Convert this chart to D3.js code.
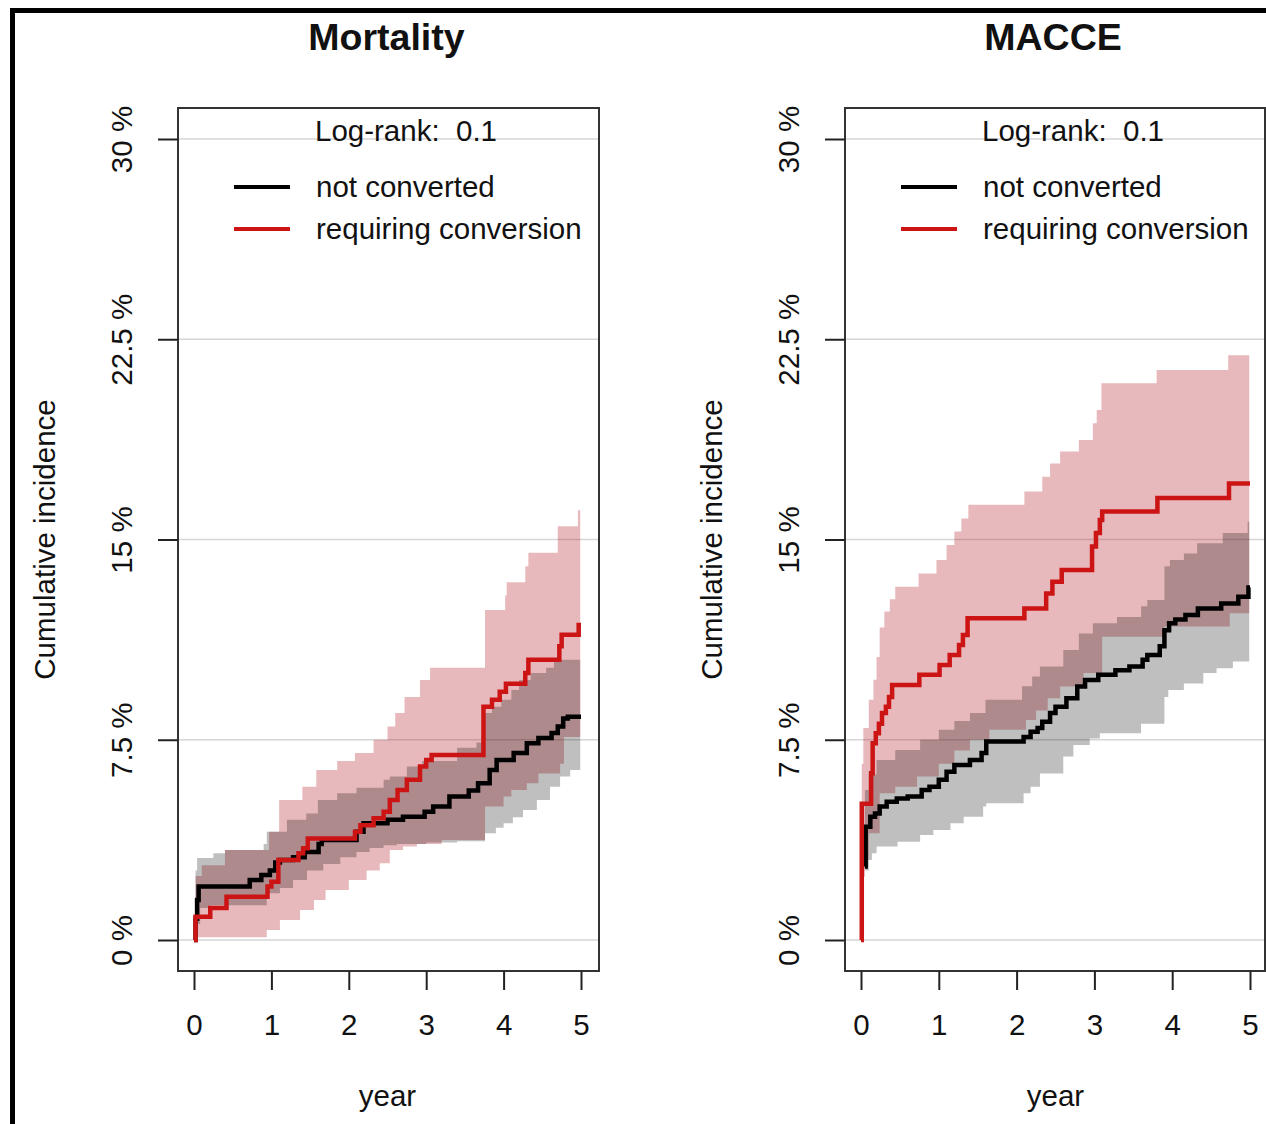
<!DOCTYPE html>
<html>
<head>
<meta charset="utf-8">
<script src="https://cdn.jsdelivr.net/npm/d3@7"></script>
<style>
  body { margin: 0; background: #fff; }
  svg text { font-family: "Liberation Sans", Arial, sans-serif; fill: #111; white-space: pre; }
</style>
</head>
<body>
<div id="main-vis"></div>
<script>
// y axis ticks (cumulative incidence, %) and x ticks (years)
const yTicks = [0, 7.5, 15, 22.5, 30]
const yTickLabels = ["0 %", "7.5 %", "15 %", "22.5 %", "30 %"]
const xTicks = [0, 1, 2, 3, 4, 5]
const groups = ["not converted", "requiring conversion"]
const logRank = ["Log-rank:  0.1", "Log-rank:  0.1"]

// ---- Mortality: [year, %] step points ----
const mortNotConv = [[0,0],[0.02,0.8],[0.04,1.5],[0.06,2.0],[0.72,2.25],[0.87,2.43],[0.98,2.6],[1.05,2.9],[1.11,3.0],
  [1.28,3.1],[1.43,3.3],[1.61,3.6],[1.65,3.75],[2.10,4.05],[2.19,4.37],[2.50,4.5],[2.70,4.62],[2.98,4.8],[3.09,5.0],
  [3.30,5.37],[3.55,5.6],[3.67,5.87],[3.82,6.37],[3.91,6.74],[4.13,7.0],[4.30,7.37],[4.45,7.57],[4.62,7.75],
  [4.70,8.0],[4.77,8.3],[4.83,8.36],[5.0,8.36]]
const mortNotConvLo = [[0.02,0.3],[0.04,0.6],[0.08,1.2],[0.21,1.3],[0.94,1.75],[1.11,1.95],[1.28,2.25],[1.46,2.6],
  [1.67,2.85],[1.89,3.1],[2.10,3.3],[2.27,3.45],[2.45,3.55],[2.62,3.6],[3.00,3.65],[3.40,3.7],[3.76,4.0],
  [3.90,4.2],[4.00,4.37],[4.12,4.6],[4.25,4.87],[4.43,5.24],[4.60,5.74],[4.73,6.12],[4.86,6.37],[4.99,6.37]]
const mortNotConvHi = [[0.02,2.6],[0.04,3.07],[0.25,3.25],[0.40,3.37],[0.90,3.6],[0.94,4.05],[1.20,4.5],[1.45,4.74],
  [1.60,5.24],[1.85,5.5],[2.10,5.7],[2.45,6.0],[2.53,6.12],[2.75,6.5],[2.95,6.7],[3.40,7.2],[3.65,7.4],[3.76,8.5],
  [3.85,8.74],[3.97,9.0],[4.10,9.36],[4.20,9.74],[4.35,10.0],[4.55,10.2],[4.65,10.5],[4.99,10.5]]

const mortConv = [[0,0],[0.02,0.87],[0.21,1.2],[0.42,1.62],[0.95,2.0],[1.0,2.18],[1.09,3.0],[1.35,3.25],[1.41,3.44],
  [1.47,3.8],[2.08,4.05],[2.15,4.3],[2.32,4.56],[2.45,4.8],[2.53,5.24],[2.63,5.62],[2.75,6.0],[2.92,6.5],[3.0,6.74],
  [3.07,6.93],[3.74,8.74],[3.85,9.0],[3.95,9.3],[4.03,9.6],[4.28,10.0],[4.32,10.5],[4.72,11.0],[4.75,11.43],
  [4.97,11.8],[5.0,11.8]]
const mortConvLo = [[0.02,0.1],[0.94,0.37],[1.11,0.75],[1.37,1.12],[1.55,1.5],[1.70,1.87],[2.00,2.25],[2.23,2.6],
  [2.40,2.87],[2.53,3.37],[2.70,3.5],[2.88,3.6],[3.20,3.75],[3.76,5.0],[4.00,5.37],[4.10,5.62],[4.30,5.87],
  [4.45,6.24],[4.73,6.6],[4.78,7.6],[4.99,7.6]]
const mortConvHi = [[0.02,2.4],[0.10,2.8],[0.40,3.37],[0.97,4.05],[1.10,5.24],[1.40,5.74],[1.58,6.37],[1.85,6.7],
  [2.08,7.0],[2.32,7.5],[2.50,8.0],[2.60,8.5],[2.72,9.1],[2.92,9.74],[3.05,10.2],[3.76,12.36],[4.02,12.9],
  [4.04,13.4],[4.28,14.0],[4.32,14.5],[4.70,15.5],[4.96,16.1],[4.99,16.1]]

// ---- MACCE ----
const macceNotConv = [[0.05,2.75],[0.06,4.24],[0.12,4.62],[0.18,4.74],[0.24,5.0],[0.33,5.18],[0.46,5.3],[0.60,5.37],
  [0.78,5.62],[0.88,5.74],[1.00,6.0],[1.10,6.3],[1.20,6.55],[1.40,6.74],[1.55,7.0],[1.61,7.43],[2.09,7.6],
  [2.18,7.8],[2.27,7.94],[2.33,8.17],[2.43,8.5],[2.50,8.74],[2.64,9.05],[2.78,9.49],[2.88,9.74],[3.05,9.93],
  [3.27,10.1],[3.45,10.24],[3.62,10.5],[3.68,10.67],[3.84,11.0],[3.90,11.6],[3.96,11.86],[4.04,12.0],
  [4.17,12.17],[4.33,12.42],[4.63,12.6],[4.85,12.86],[4.98,13.2],[5.0,13.2]]
const macceNotConvLo = [[0.05,2.6],[0.10,3.0],[0.14,3.25],[0.20,3.5],[0.47,3.68],[0.76,3.93],[0.93,4.12],[1.15,4.37],
  [1.32,4.62],[1.57,5.0],[1.61,5.12],[2.09,5.5],[2.18,5.74],[2.30,6.24],[2.60,6.87],[2.73,7.3],[2.94,7.55],
  [3.07,7.74],[3.60,8.1],[3.90,9.1],[3.95,9.36],[4.15,9.61],[4.40,10.0],[4.57,10.18],[4.78,10.43],[4.99,10.43]]
const macceNotConvHi = [[0.05,5.62],[0.10,6.2],[0.20,6.74],[0.44,7.12],[0.76,7.5],[1.00,7.87],[1.20,8.2],[1.40,8.5],
  [1.60,9.0],[2.07,9.5],[2.20,9.87],[2.30,10.24],[2.60,10.86],[2.80,11.48],[2.98,11.86],[3.29,12.1],[3.60,12.5],
  [3.68,12.73],[3.90,14.0],[3.97,14.23],[4.15,14.48],[4.32,14.86],[4.65,15.24],[4.97,15.67],[4.99,15.67]]

const macceConv = [[0,0],[0.01,5.1],[0.13,6.25],[0.15,7.37],[0.19,7.74],[0.23,8.1],[0.27,8.5],[0.32,8.74],[0.36,9.1],
  [0.40,9.55],[0.75,9.93],[1.01,10.3],[1.14,10.67],[1.26,11.05],[1.31,11.42],[1.37,12.05],[2.10,12.42],
  [2.38,12.98],[2.46,13.42],[2.58,13.86],[2.97,14.74],[3.02,15.24],[3.07,15.73],[3.10,16.05],[3.81,16.55],
  [4.73,17.1],[5.0,17.1]]
const macceConvLo = [[0.01,2.37],[0.05,3.0],[0.10,4.0],[0.24,5.5],[0.44,5.74],[0.72,6.12],[1.00,6.6],[1.20,7.1],
  [1.40,7.5],[1.65,7.87],[2.12,8.24],[2.25,8.6],[2.40,9.05],[2.56,9.49],[2.86,10.0],[3.10,11.36],[3.90,11.74],
  [4.74,12.24],[4.99,12.24]]
const macceConvHi = [[0.01,6.6],[0.03,7.94],[0.10,9.0],[0.16,9.75],[0.20,10.6],[0.24,11.7],[0.30,12.3],[0.37,12.76],
  [0.44,13.23],[0.74,13.73],[0.97,14.23],[1.10,14.79],[1.20,15.3],[1.29,15.79],[1.38,16.3],[2.10,16.8],
  [2.33,17.35],[2.43,17.85],[2.56,18.3],[2.80,18.73],[2.98,19.35],[3.03,19.85],[3.09,20.85],[3.80,21.35],
  [4.72,21.9],[4.99,21.9]]

const W = 1266, H = 1124
const FONT = 29.5
const RED = '#cc1414'

const svg = d3.create('svg')
  .attr('width', W)
  .attr('height', H)

svg.append('rect').attr('width', W).attr('height', H).attr('fill', '#fff')

// outer frame (right and bottom edges fall outside the picture)
svg.append('rect')
  .attr('x', 12.5).attr('y', 10.5)
  .attr('width', 1300).attr('height', 1200)
  .attr('fill', 'none').attr('stroke', '#000').attr('stroke-width', 5)

// value of a step function at time t
function stepAt (pts, t) {
  let v = pts[0][1]
  for (const p of pts) if (p[0] <= t) v = p[1]
  return v
}

function bandData (lo, hi) {
  const ts = Array.from(new Set(lo.map(d => d[0]).concat(hi.map(d => d[0])))).sort((a, b) => a - b)
  return ts.map(t => ({ t: t, lo: stepAt(lo, t), hi: stepAt(hi, t) }))
}

function drawPanel (p) {
  const g = svg.append('g')
  const x = d3.scaleLinear().domain([0, 5]).range([p.x0, p.x5])
  const y = d3.scaleLinear().domain([0, 30]).range([940, 139])
  const top = 108, bottom = 971

  // title
  g.append('text')
    .attr('x', (p.boxL + p.boxR) / 2 - 2).attr('y', 50)
    .attr('text-anchor', 'middle')
    .attr('font-size', 37.5).attr('font-weight', 'bold')
    .text(p.title)

  // grid lines
  g.selectAll('.grid').data(yTicks).join('line')
    .attr('x1', p.boxL).attr('x2', p.boxR)
    .attr('y1', d => y(d)).attr('y2', d => y(d))
    .attr('stroke', '#d6d6d6').attr('stroke-width', 1.5)

  // confidence bands: red first, grey on top so overlap turns dark
  const area = d3.area().curve(d3.curveStepAfter)
    .x(d => x(d.t)).y0(d => y(d.lo)).y1(d => y(d.hi))
  g.append('path').datum(bandData(p.convLo, p.convHi))
    .attr('d', area).attr('fill', 'rgb(180,22,32)').attr('fill-opacity', 0.3)
  g.append('path').datum(bandData(p.notLo, p.notHi))
    .attr('d', area).attr('fill', '#000').attr('fill-opacity', 0.25)

  // curves
  const line = d3.line().curve(d3.curveStepAfter).x(d => x(d[0])).y(d => y(d[1]))
  g.append('path').datum(p.notConv).attr('d', line)
    .attr('fill', 'none').attr('stroke', '#000').attr('stroke-width', 4.5)
  g.append('path').datum(p.conv).attr('d', line)
    .attr('fill', 'none').attr('stroke', RED).attr('stroke-width', 4.5)

  // box
  g.append('rect')
    .attr('x', p.boxL).attr('y', top)
    .attr('width', p.boxR - p.boxL).attr('height', bottom - top)
    .attr('fill', 'none').attr('stroke', '#333').attr('stroke-width', 2)

  // x axis
  const xAxis = g.append('g').attr('transform', `translate(0,${bottom})`)
    .call(d3.axisBottom(x).tickValues(xTicks).tickSize(19).tickPadding(24).tickFormat(d3.format('d')))
  xAxis.select('.domain').remove()
  xAxis.selectAll('line').attr('stroke', '#222').attr('stroke-width', 2)
  xAxis.selectAll('text').attr('font-size', FONT).attr('fill', '#111')
    .attr('font-family', '"Liberation Sans", Arial, sans-serif')

  // y axis ticks with rotated labels
  const yAxis = g.append('g').attr('transform', `translate(${p.boxL},0)`)
    .call(d3.axisLeft(y).tickValues(yTicks).tickSize(20).tickFormat((d, i) => yTickLabels[i]))
  yAxis.select('.domain').remove()
  yAxis.selectAll('line').attr('stroke', '#222').attr('stroke-width', 2)
  yAxis.selectAll('text')
    .attr('font-size', FONT).attr('fill', '#111')
    .attr('font-family', '"Liberation Sans", Arial, sans-serif')
    .attr('text-anchor', 'middle').attr('dy', null).attr('x', null)
    .attr('transform', 'translate(-46,0) rotate(-90)')

  // axis titles
  g.append('text')
    .attr('transform', `translate(${p.boxL - 123},${(top + bottom) / 2}) rotate(-90)`)
    .attr('text-anchor', 'middle').attr('font-size', FONT)
    .text('Cumulative incidence')
  g.append('text')
    .attr('x', (p.x0 + p.x5) / 2).attr('y', 1106)
    .attr('text-anchor', 'middle').attr('font-size', FONT)
    .text('year')

  // legend
  const lx = p.boxL
  g.append('text').attr('x', lx + 137).attr('y', 141).attr('font-size', FONT)
    .text(p.logRank)
  const colors = ['#000', RED]
  groups.forEach((name, i) => {
    const ly = 187 + i * 42
    g.append('line')
      .attr('x1', lx + 56).attr('x2', lx + 112).attr('y1', ly).attr('y2', ly)
      .attr('stroke', colors[i]).attr('stroke-width', 4)
    g.append('text').attr('x', lx + 138).attr('y', ly + 10).attr('font-size', FONT).text(name)
  })
}

drawPanel({
  title: 'Mortality', logRank: logRank[0],
  boxL: 178, boxR: 599, x0: 194, x5: 581,
  notConv: mortNotConv, notLo: mortNotConvLo, notHi: mortNotConvHi,
  conv: mortConv, convLo: mortConvLo, convHi: mortConvHi
})

drawPanel({
  title: 'MACCE', logRank: logRank[1],
  boxL: 845, boxR: 1265, x0: 861, x5: 1250,
  notConv: macceNotConv, notLo: macceNotConvLo, notHi: macceNotConvHi,
  conv: macceConv, convLo: macceConvLo, convHi: macceConvHi
})

document.querySelector('#main-vis').appendChild(svg.node())
</script>
</body>
</html>
